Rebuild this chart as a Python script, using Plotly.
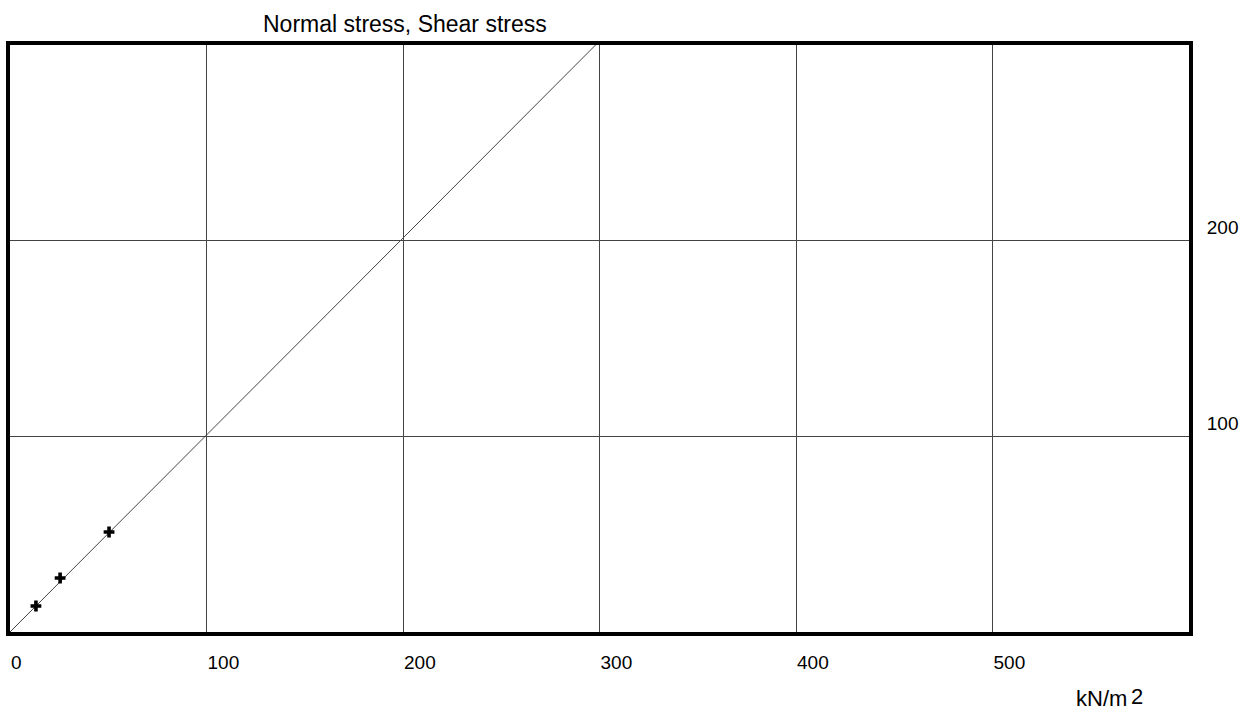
import plotly.graph_objects as go

normal_stress = [13.2, 25.5, 50.4]
shear_stress = [13.3, 27.6, 51.1]
line_x = [0, 298]
line_y = [0, 300]
x_ticks = [0, 100, 200, 300, 400, 500]
y_ticks = [100, 200]

FONT = "Liberation Sans, Arial, sans-serif"

fig = go.Figure()
fig.add_trace(go.Scatter(x=line_x, y=line_y, mode="lines",
                         line=dict(color="#444", width=1), showlegend=False, hoverinfo="skip"))
fig.add_trace(go.Scatter(x=normal_stress, y=shear_stress, mode="markers",
                         marker=dict(symbol="cross", size=9, color="black"),
                         showlegend=False))

fig.update_layout(
    width=1259, height=711,
    margin=dict(l=10, r=70, t=45, b=79, autoexpand=False),
    paper_bgcolor="white", plot_bgcolor="white",
    font=dict(family=FONT, size=19, color="black"),
    xaxis=dict(range=[0, 600], tickvals=x_ticks, ticktext=[str(v) for v in x_ticks],
               showgrid=True, gridcolor="#444", gridwidth=1, zeroline=False,
               showline=True, linecolor="black", linewidth=4, mirror=True,
               automargin=False, tickfont=dict(family=FONT, size=19),
               ticks="", ticklabelposition="outside right", ticklabelstandoff=10,
               ticklabelshift=-1),
    yaxis=dict(range=[0, 300], tickvals=y_ticks, ticktext=[str(v) for v in y_ticks],
               side="right", showgrid=True, gridcolor="#444", gridwidth=1, zeroline=False,
               showline=True, linecolor="black", linewidth=4, mirror=True,
               automargin=False, tickfont=dict(family=FONT, size=19),
               ticks="", ticklabelposition="outside top", ticklabelstandoff=10),
    annotations=[
        dict(text="Normal stress, Shear stress", xref="paper", yref="paper",
             x=(405 - 10) / 1179, y=1, yanchor="bottom", yshift=6, showarrow=False,
             font=dict(family=FONT, size=23, color="black")),
        dict(text="kN/m", xref="paper", yref="paper",
             x=(1129 - 10) / 1179, xanchor="right", y=0, yanchor="top", yshift=-52,
             showarrow=False, font=dict(family=FONT, size=22, color="black")),
        dict(text="2", xref="paper", yref="paper",
             x=(1129 - 10) / 1179, xanchor="left", y=0, yanchor="top", yshift=-50,
             showarrow=False, font=dict(family=FONT, size=22, color="black")),
    ],
)

fig.write_html("out.html")
